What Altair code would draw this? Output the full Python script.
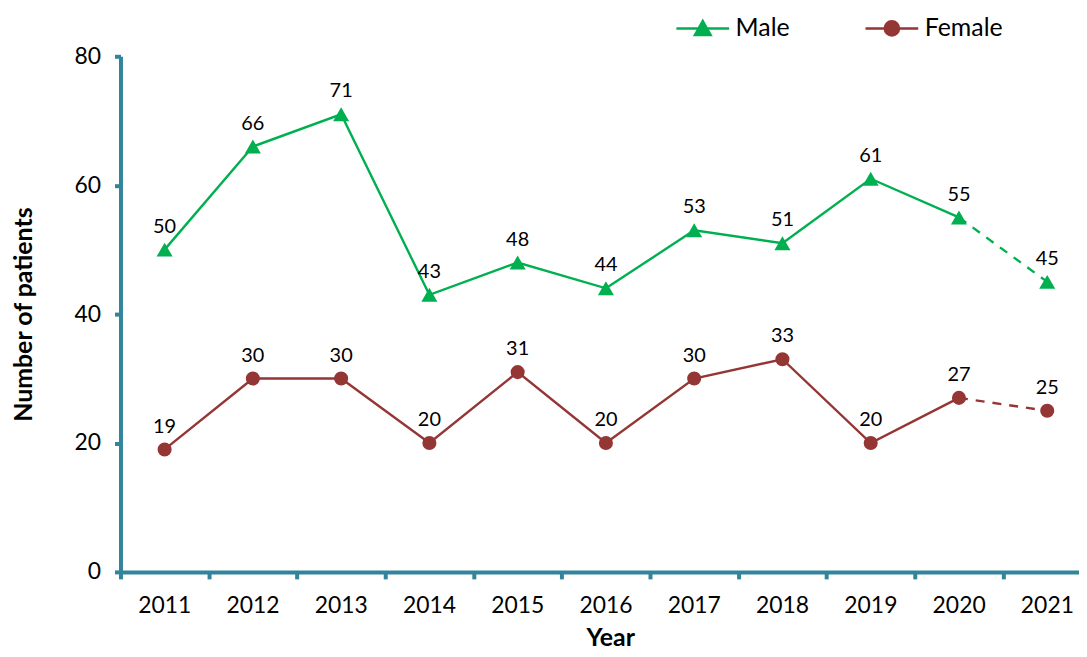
import altair as alt
import pandas as pd

years = [2011, 2012, 2013, 2014, 2015, 2016, 2017, 2018, 2019, 2020, 2021]
male = [50, 66, 71, 43, 48, 44, 53, 51, 61, 55, 45]
female = [19, 30, 30, 20, 31, 20, 30, 33, 20, 27, 25]

series_names = ["Male", "Female"]
series_values = [male, female]
series_colors = ["#00B050", "#943634"]
series_shapes = ["triangle-up", "circle"]
series_sizes = [260, 200]
legend_paths = [
    "M-1,0L1,0M-0.3,0.25L0,-0.28L0.3,0.25Z",
    "M-1,0L1,0M-0.27,0A0.27,0.27 0 1,0 0.27,0A0.27,0.27 0 1,0 -0.27,0Z",
]

FONT = "Lato"
AXIS_COLOR = "#31849B"

x_scale = alt.Scale(domain=[2010.5, 2021.36], nice=False, zero=False)
y_scale = alt.Scale(domain=[0, 80], nice=False)

x_axis = alt.Axis(
    title="Year",
    values=[y - 0.5 for y in years],
    labelExpr="floor(datum.value + 1)",
    labelOffset=44,
    labelFlush=False,
    labelOverlap=False,
    labelFontSize=23,
    labelFont=FONT,
    labelColor="black",
    labelPadding=16,
    tickSize=7,
    tickWidth=4,
    tickColor=AXIS_COLOR,
    domainColor=AXIS_COLOR,
    domainWidth=4,
    grid=False,
    titleFont=FONT,
    titleFontSize=25,
    titleFontWeight="bold",
    titleColor="black",
    titlePadding=8,
    titleX=492,
)
y_axis = alt.Axis(
    title="Number of patients",
    values=[0, 20, 40, 60, 80],
    labelFontSize=23,
    labelFont=FONT,
    labelColor="black",
    labelPadding=14,
    tickSize=6,
    tickWidth=4,
    tickColor=AXIS_COLOR,
    domainColor=AXIS_COLOR,
    domainWidth=4,
    grid=False,
    titleFont=FONT,
    titleFontSize=25,
    titleFontWeight="bold",
    titleColor="black",
    titlePadding=38,
)

enc_x = alt.X("year:Q", scale=x_scale, axis=x_axis)
enc_y = alt.Y("value:Q", scale=y_scale, axis=y_axis)

layers = []
for name, vals, col, shp, sz in zip(series_names, series_values, series_colors, series_shapes, series_sizes):
    df = pd.DataFrame({"year": years, "value": vals, "series": name})
    solid = df[df["year"] <= 2020]
    dashed = df[df["year"] >= 2020]
    layers.append(
        alt.Chart(solid).mark_line(color=col, strokeWidth=2.4).encode(x=enc_x, y=enc_y)
    )
    layers.append(
        alt.Chart(dashed).mark_line(color=col, strokeWidth=2.4, strokeDash=[9, 8]).encode(x=enc_x, y=enc_y)
    )
    layers.append(
        alt.Chart(df).mark_point(filled=True, color=col, shape=shp, size=sz, opacity=1).encode(x=enc_x, y=enc_y)
    )
    layers.append(
        alt.Chart(df).mark_text(dy=-23, baseline="middle", fontSize=20, font=FONT, color="black").encode(
            x=enc_x, y=enc_y, text="value:Q"
        )
    )

# legend layer (no visible marks)
leg_df = pd.DataFrame({"year": years, "value": male, "series": "Male"})
legend_common = dict(
    title=None,
    orient="none",
    legendX=557,
    legendY=-56,
    direction="horizontal",
    columns=2,
    columnPadding=70,
    labelFont=FONT,
    labelFontSize=25,
    labelColor="black",
    labelOffset=5,
    symbolSize=2809,
    symbolStrokeWidth=2.4,
    symbolOpacity=1,
)
legend_layer = (
    alt.Chart(leg_df)
    .transform_filter("false")
    .mark_point(filled=True, opacity=1, strokeWidth=2.4)
    .encode(
        x=enc_x,
        y=enc_y,
        fill=alt.Fill("series:N", scale=alt.Scale(domain=series_names, range=series_colors), legend=alt.Legend(**legend_common)),
        stroke=alt.Stroke("series:N", scale=alt.Scale(domain=series_names, range=series_colors), legend=alt.Legend(**legend_common)),
        shape=alt.Shape("series:N", scale=alt.Scale(domain=series_names, range=legend_paths), legend=alt.Legend(**legend_common)),
    )
)
layers.append(legend_layer)

chart = (
    alt.layer(*layers)
    .properties(
        width=963,
        height=518,
        background="white",
        autosize=alt.AutoSizeParams(type="none"),
        padding={"left": 113, "top": 47, "right": 0, "bottom": 90},
    )
    .configure_view(stroke=None)
)

chart.save("out.html", embed_options={"renderer": "svg", "actions": False})
